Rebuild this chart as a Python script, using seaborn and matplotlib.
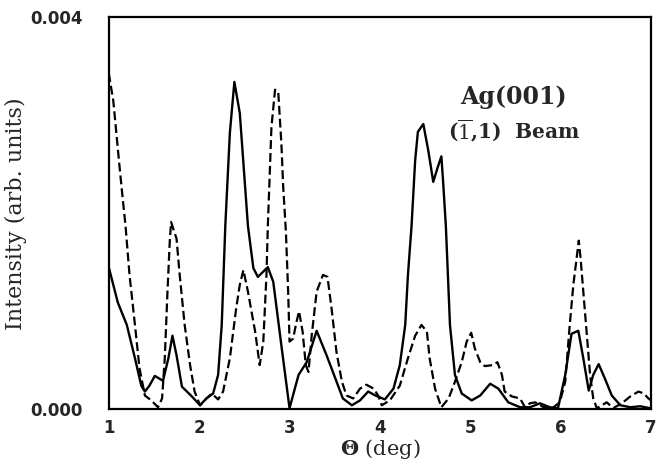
import matplotlib
matplotlib.use("Agg")
import matplotlib.pyplot as plt
import pandas as pd
import seaborn as sns
from matplotlib.ticker import FixedLocator, MultipleLocator

# solid curve
theta_solid = [1.00, 1.10, 1.20, 1.29, 1.36, 1.40, 1.45, 1.51, 1.60, 1.66,
               1.705, 1.75, 1.81, 1.92, 2.01, 2.08, 2.155, 2.21, 2.25, 2.29,
               2.34, 2.39, 2.45, 2.54, 2.60, 2.65, 2.76, 2.82, 2.91, 3.00,
               3.10, 3.19, 3.30, 3.41, 3.48, 3.59, 3.69, 3.78, 3.87, 3.95,
               4.055, 4.15, 4.22, 4.28, 4.31, 4.35, 4.39, 4.42, 4.48, 4.535,
               4.59, 4.64, 4.68, 4.70, 4.73, 4.775, 4.83, 4.905, 5.015, 5.11,
               5.22, 5.31, 5.42, 5.55, 5.66, 5.77, 5.88, 5.97, 6.05, 6.12,
               6.195, 6.25, 6.31, 6.36, 6.42, 6.49, 6.565, 6.66, 6.77, 6.88,
               6.99]
int_solid = [0.00145, 0.00109, 0.00086, 0.00052, 0.00024, 0.00018, 0.00024,
             0.00034, 0.00029, 0.00052, 0.00075, 0.00055, 0.00023, 0.00013,
             0.00004, 0.00011, 0.00016, 0.00035, 0.00086, 0.00188, 0.00282,
             0.00334, 0.00302, 0.00187, 0.00144, 0.00135, 0.00145, 0.00130,
             0.00065, 0.00001, 0.00035, 0.00048, 0.00080, 0.00055, 0.00038,
             0.00011, 0.00004, 0.00009, 0.00018, 0.00014, 0.00010, 0.00021,
             0.00045, 0.00086, 0.00137, 0.00187, 0.00254, 0.00283, 0.00291,
             0.00264, 0.00232, 0.00247, 0.00258, 0.00231, 0.00186, 0.00086,
             0.00035, 0.00016, 0.00009, 0.00014, 0.00026, 0.00021, 0.00007,
             0.00002, 0.00002, 0.00006, 0.00002, 0.00001, 0.00035, 0.00077,
             0.00080, 0.00052, 0.00019, 0.00035, 0.00046, 0.00031, 0.00014,
             0.00004, 0.00002, 0.00003, 0.00001]

# dashed curve
theta_dash = [1.00, 1.05, 1.085, 1.12, 1.16, 1.185, 1.23, 1.29, 1.34, 1.40,
              1.47, 1.545, 1.59, 1.62, 1.65, 1.675, 1.69, 1.75, 1.785, 1.84,
              1.90, 1.95, 2.01, 2.06, 2.14, 2.21, 2.265, 2.34, 2.41, 2.45,
              2.49, 2.54, 2.62, 2.67, 2.71, 2.745, 2.76, 2.78, 2.80, 2.84,
              2.875, 2.91, 2.93, 2.96, 2.985, 3.00, 3.04, 3.07, 3.105, 3.145,
              3.18, 3.21, 3.245, 3.30, 3.37, 3.42, 3.465, 3.52, 3.58, 3.63,
              3.705, 3.78, 3.85, 3.93, 3.98, 4.02, 4.11, 4.22, 4.31, 4.39,
              4.46, 4.52, 4.55, 4.61, 4.68, 4.76, 4.83, 4.905, 4.96, 5.01,
              5.05, 5.11, 5.16, 5.25, 5.30, 5.35, 5.38, 5.46, 5.55, 5.605,
              5.66, 5.72, 5.81, 5.92, 5.99, 6.05, 6.10, 6.14, 6.18, 6.20,
              6.22, 6.25, 6.29, 6.325, 6.36, 6.40, 6.455, 6.51, 6.58, 6.675,
              6.77, 6.86, 6.92, 6.97, 7.00]
int_dash = [0.00343, 0.00315, 0.00281, 0.00247, 0.00210, 0.00188, 0.00137,
            0.00086, 0.00042, 0.00014, 0.00009, 0.00002, 0.00011, 0.00052,
            0.00120, 0.00171, 0.00191, 0.00174, 0.00137, 0.00086, 0.00045,
            0.00018, 0.00004, 0.00009, 0.00016, 0.00010, 0.00018, 0.00052,
            0.00103, 0.00127, 0.00142, 0.00120, 0.00079, 0.00045, 0.00069,
            0.00137, 0.00187, 0.00237, 0.00288, 0.00326, 0.00324, 0.00271,
            0.00227, 0.00181, 0.00120, 0.00069, 0.00072, 0.00086, 0.00100,
            0.00079, 0.00045, 0.00038, 0.00075, 0.00120, 0.00137, 0.00135,
            0.00103, 0.00058, 0.00028, 0.00014, 0.00011, 0.00021, 0.00025,
            0.00021, 0.00014, 0.00004, 0.00009, 0.00024, 0.00052, 0.00075,
            0.00086, 0.00079, 0.00052, 0.00021, 0.00002, 0.00011, 0.00028,
            0.00048, 0.00069, 0.00078, 0.00062, 0.00048, 0.00044, 0.00045,
            0.00048, 0.00035, 0.00018, 0.00013, 0.00011, 0.00002, 0.00006,
            0.00007, 0.00002, 0.00002, 0.00007, 0.00028, 0.00086, 0.00127,
            0.00157, 0.00172, 0.00154, 0.00120, 0.00075, 0.00035, 0.00011,
            0.00001, 0.00004, 0.00007, 0.00001, 0.00006, 0.00013, 0.00018,
            0.00016, 0.00011, 0.00009]

x_ticks = [1, 2, 3, 4, 5, 6, 7]
y_ticks = [0.000, 0.004]
y_tick_labels = ["0.000", "0.004"]

sns.set_style("white")
plt.rcParams["mathtext.fontset"] = "dejavuserif"

solid_df = pd.DataFrame({"theta": theta_solid, "intensity": int_solid})
dash_df = pd.DataFrame({"theta": theta_dash, "intensity": int_dash})

fig = plt.figure(figsize=(6.59, 4.65), dpi=100)
ax = fig.add_axes([0.165, 0.120, 0.823, 0.843])

sns.lineplot(data=solid_df, x="theta", y="intensity", ax=ax,
             color="black", linewidth=1.7, sort=False)
sns.lineplot(data=dash_df, x="theta", y="intensity", ax=ax,
             color="black", linewidth=1.6, sort=False, linestyle=(0, (4, 1.8)))

ax.set_xlim(1, 7)
ax.set_ylim(0, 0.004)

ax.xaxis.set_major_locator(FixedLocator(x_ticks))
ax.xaxis.set_minor_locator(MultipleLocator(0.5))
ax.set_yticks(y_ticks)
ax.set_yticklabels(y_tick_labels)
ax.yaxis.set_minor_locator(MultipleLocator(0.001))
ax.tick_params(axis="both", which="major", direction="in", length=6, width=1.3,
               labelsize=12, pad=7)
ax.tick_params(axis="both", which="minor", direction="in", length=4, width=1.2)
ax.tick_params(axis="y", which="major", pad=19)
for lbl in ax.get_xticklabels() + ax.get_yticklabels():
    lbl.set_fontweight("bold")
    lbl.set_family("DejaVu Sans")

for sp in ax.spines.values():
    sp.set_linewidth(1.6)
    sp.set_color("black")

ax.set_xlabel(r"$\mathbf{\Theta}$ (deg)", family="DejaVu Serif", fontsize=15, labelpad=0)
ax.set_ylabel("Intensity (arb. units)", family="DejaVu Serif", fontsize=16, labelpad=2)

ax.text(0.648, 0.778, "Ag(001)", transform=ax.transAxes, family="DejaVu Serif",
        fontsize=17, fontweight="semibold", ha="left", va="baseline")
ax.text(0.625, 0.689, r"($\overline{1}$,1)  Beam", transform=ax.transAxes,
        family="DejaVu Serif", fontsize=14.5, fontweight="semibold", ha="left",
        va="baseline")

fig.savefig("out.png", dpi=100)
